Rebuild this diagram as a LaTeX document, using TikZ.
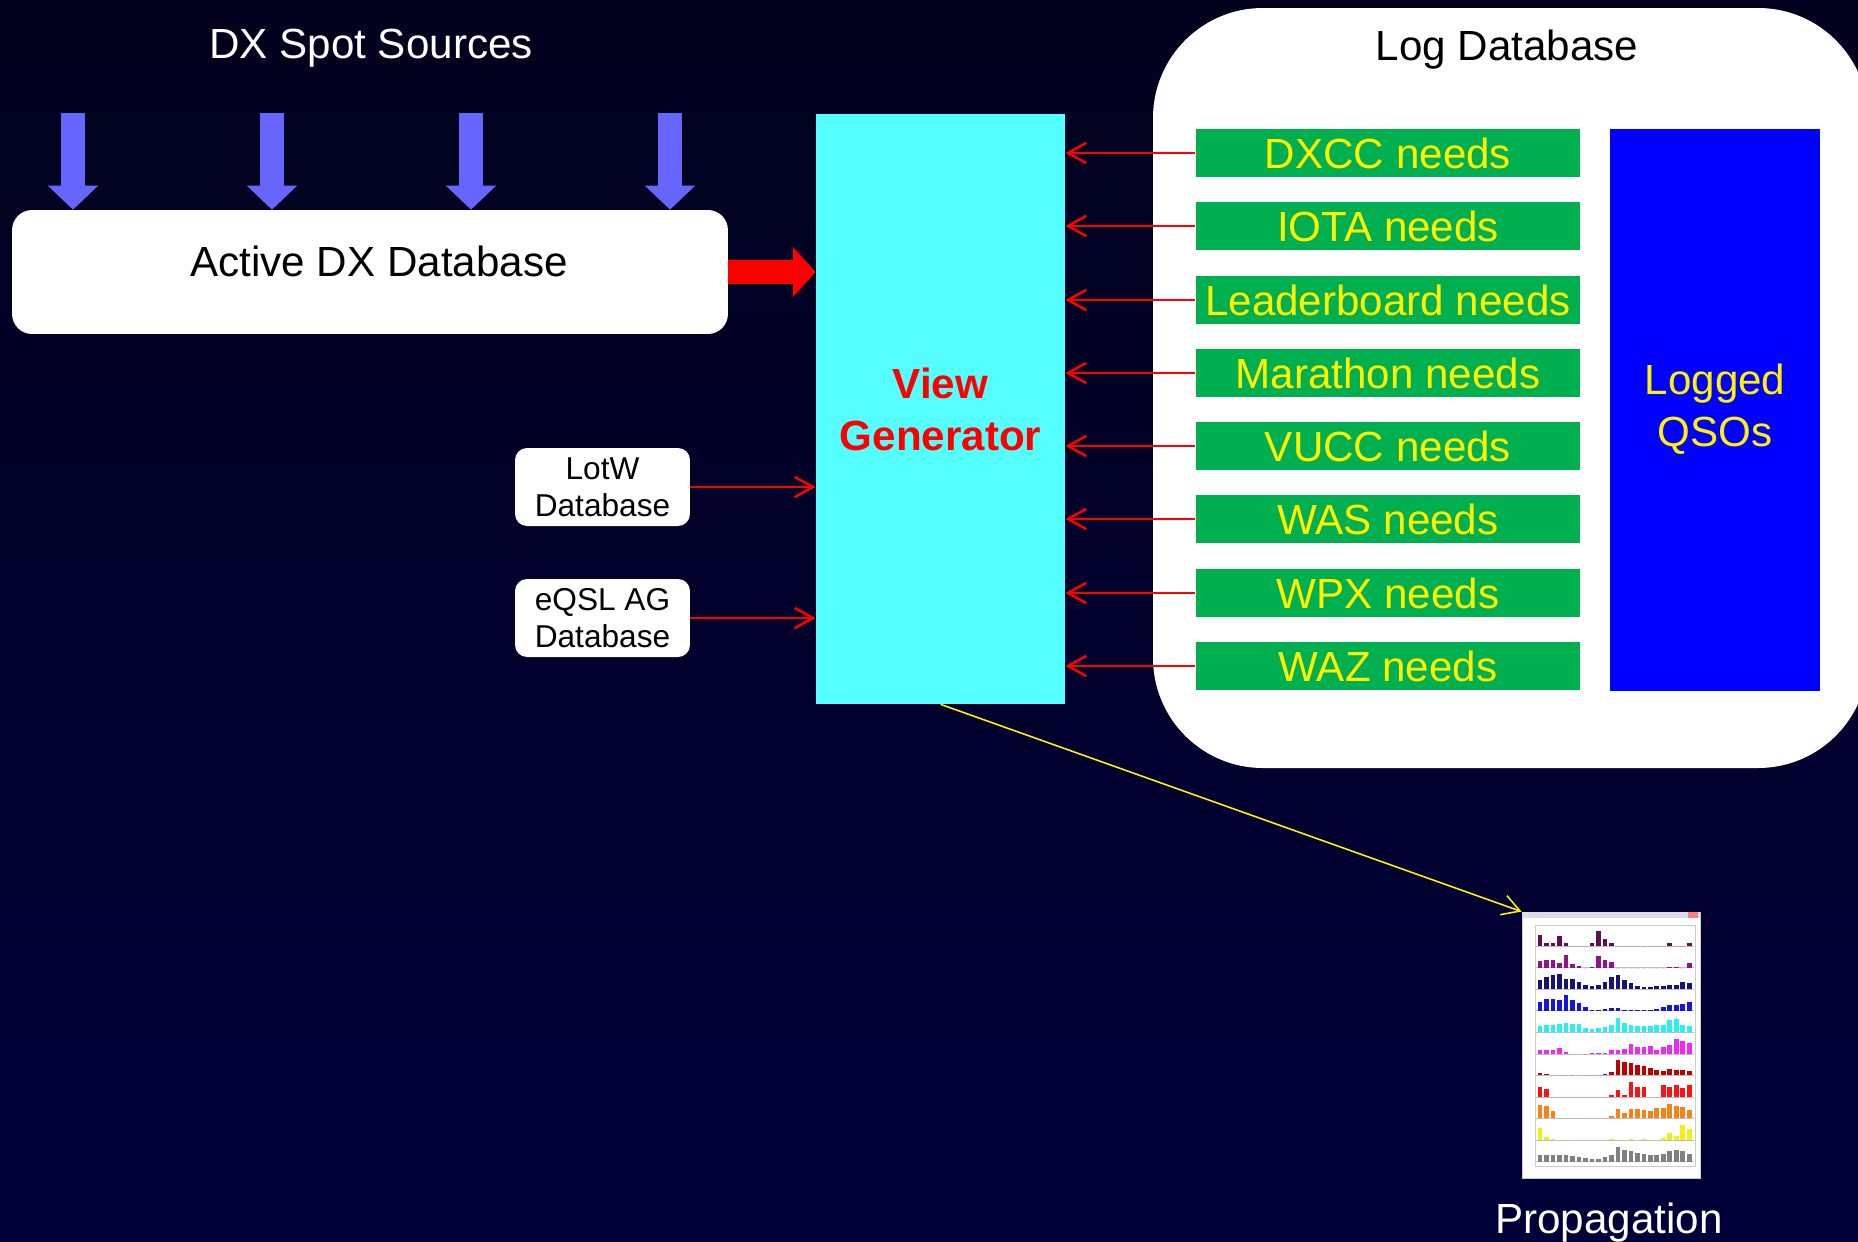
\documentclass[tikz,border=0pt]{standalone}
\usepackage{fontspec}
\setmainfont{Liberation Sans}
\usetikzlibrary{arrows.meta}

\definecolor{navytop}{RGB}{2,2,30}
\definecolor{navybot}{RGB}{0,0,58}
\definecolor{viewcyan}{RGB}{85,255,255}
\definecolor{needgreen}{RGB}{0,176,80}
\definecolor{spotblue}{RGB}{102,102,255}
\definecolor{qsoblue}{RGB}{0,0,255}
\definecolor{b160}{RGB}{96,16,80}
\definecolor{b80}{RGB}{140,20,140}
\definecolor{b40}{RGB}{20,20,120}
\definecolor{b30}{RGB}{20,20,230}
\definecolor{b20}{RGB}{40,240,240}
\definecolor{b17}{RGB}{240,40,240}
\definecolor{b15}{RGB}{190,0,0}
\definecolor{b12}{RGB}{250,20,20}
\definecolor{b10}{RGB}{250,130,20}
\definecolor{b6}{RGB}{240,240,20}
\definecolor{btot}{RGB}{128,128,128}

\begin{document}
\begin{tikzpicture}[x=0.02cm, y=-0.02cm,
    big/.style={font=\fontsize{24}{29.5}\selectfont},
    small/.style={font=\fontsize{18}{21}\selectfont},
    need/.style={fill=needgreen, text=yellow, minimum width=7.7cm, minimum height=0.96cm, inner sep=0pt, big},
    dbbox/.style={fill=white, rounded corners=0.24cm, minimum width=3.5cm, minimum height=1.56cm, inner sep=0pt, align=center, small},
    feed/.style={->, >={Straight Barb[length=10.5pt,width=11.5pt]}, red, line width=1.4pt},
    spot/.style={-{Triangle[length=13.7pt,width=27.9pt]}, spotblue, line width=13.7pt}]
    	        \useasboundingbox (0,0) rectangle (1858,1241);
    	        \clip (0,0) rectangle (1858,1241);
    	        \shade[top color=navytop, bottom color=navybot] (0,0) rectangle (1858,1241);
    	        
    	        % spot sources
    	        \node[big, white, anchor=base] at (371,58) (spots) {DX Spot Sources};
    	        \node[fill=white, rounded corners=0.4cm, minimum width=14.32cm, minimum height=2.48cm, text depth=0.43cm, big] at (370,272) (active) {\hspace*{0.36cm}Active DX Database};
    	        \coordinate (s1) at (73,113);
    	        \coordinate (s2) at (272,113);
    	        \coordinate (s3) at (471,113);
    	        \coordinate (s4) at (670,113);
    	        \draw[spot] (s1) -- (s1 |- active.north);
    	        \draw[spot] (s2) -- (s2 |- active.north);
    	        \draw[spot] (s3) -- (s3 |- active.north);
    	        \draw[spot] (s4) -- (s4 |- active.north);
    	        
    	        % view generator
    	        \node[fill=viewcyan, minimum width=4.98cm, minimum height=11.8cm, text=red, align=center, font=\fontsize{24}{29.6}\selectfont\bfseries] at (940.5,409) (view) {View\\Generator};
    	        \draw[red, line width=13.7pt, -{Triangle[length=13pt,width=28pt]}] (active.east) -- (active.east -| view.west);
    	        
    	        \node[dbbox] at (602.5,487) (lotw) {LotW\\Database};
    	        \node[dbbox] at (602.5,618) (eqsl) {eQSL AG\\Database};
    	        \draw[feed] (lotw.east) -- (lotw.east -| view.west);
    	        \draw[feed] (eqsl.east) -- (eqsl.east -| view.west);
    	        
    	        % log database
    	        \fill[white, rounded corners=2.2cm] (1153,8) rectangle (1868,768);
    	        \node[big, anchor=base] at (1507,60) (logdb) {Log Database};
    	        \node[need] at (1388,153) (dxcc) {DXCC needs};
    	        \node[need] at (1388,226) (iota) {IOTA needs};
    	        \node[need] at (1388,300) (lead) {Leaderboard needs};
    	        \node[need] at (1388,373) (mara) {Marathon needs};
    	        \node[need] at (1388,446) (vucc) {VUCC needs};
    	        \node[need] at (1388,519) (was) {WAS needs};
    	        \node[need] at (1388,593) (wpx) {WPX needs};
    	        \node[need] at (1388,666) (waz) {WAZ needs};
    	        \node[fill=qsoblue, minimum width=4.2cm, minimum height=11.24cm, text=yellow, align=center, text depth=0.2cm, big] at (1715,410) (qsos) {Logged\\QSOs};
    	        
    	        \draw[feed] (dxcc.west) -- (dxcc.west -| view.east);
    	        \draw[feed] (iota.west) -- (iota.west -| view.east);
    	        \draw[feed] (lead.west) -- (lead.west -| view.east);
    	        \draw[feed] (mara.west) -- (mara.west -| view.east);
    	        \draw[feed] (vucc.west) -- (vucc.west -| view.east);
    	        \draw[feed] (was.west) -- (was.west -| view.east);
    	        \draw[feed] (wpx.west) -- (wpx.west -| view.east);
    	        \draw[feed] (waz.west) -- (waz.west -| view.east);
    	        
    	        % propagation chart
    	        \node[fill=white, draw=gray!40, line width=0.5pt, minimum width=3.56cm, minimum height=5.32cm, inner sep=0pt] at (1611,1045) (chart) {};
    	        \fill[blue!10!gray!25] (chart.north west) rectangle ++(178,6);
    	        \fill[red!50] (1688,912) rectangle (1698,918);
    	        \draw[gray!40, line width=0.3pt] (1535,925) rectangle (1695,1166);
    	        \foreach \c/\h [count=\r from 0] in {
    	            b160/{11,3,3,10,3,0,0,0,3,15,7,3,0,0,0,0,0,0,0,0,3,0,0,3},
    	            b80/{7,8,8,5,13,4,2,0,1,12,8,6,0,0,0,0,0,0,0,0,1,1,0,5},
    	            b40/{9,12,14,15,10,10,7,4,3,4,7,12,14,9,6,3,2,2,3,3,4,4,7,6},
    	            b30/{9,12,12,11,16,11,8,4,1,1,2,3,3,1,1,1,1,1,2,4,6,6,7,9},
    	            b20/{6,7,7,8,9,8,8,4,3,4,5,7,14,9,7,6,6,6,7,7,12,13,7,6},
    	            b17/{4,4,4,6,2,0,0,0,0.5,1,1,4,4,5,10,7,7,8,4,7,9,15,13,11},
    	            b15/{2,1,0,0,0,0,0,0,0,0,1,3,15,13,12,10,9,7,5,4,6,5,5,4},
    	            b12/{10,8,0,0,0,0,0,0,0,0,0,2,7,2,15,10,10,0,0,12,10,12,9,12},
    	            b10/{13,12,7,0,0,0,0,0,0,0,0,2,9,5,9,9,8,7,10,10,14,12,11,8},
    	            b6/{12,3,0.5,0,0,0,0,0,0,0,0,1,0,0,1,0,1,0,0,2,7,4,15,11},
    	            btot/{7,7,7,7,7,6,5,4,3,3,5,7,15,12,11,9,8,7,7,8,11,12,11,8}} {
    	            \draw[gray!50, line width=0.3pt] (1536,{946+21.55*\r}) -- (1694,{946+21.55*\r});
    	            \foreach \v [count=\i from 0] in \h
    	                \fill[\c] ({1537.7+6.487*\i},{946+21.55*\r}) rectangle ++(4.6,-\v);
    	        }
    	        \node[big, white, anchor=base] at (1609,1233) (prop) {Propagation};
    	        \draw[->, >={Straight Barb[length=10pt,width=11.5pt]}, yellow, line width=0.9pt] (view.south) -- (chart.north west);
    	    \end{tikzpicture}
\end{document}
